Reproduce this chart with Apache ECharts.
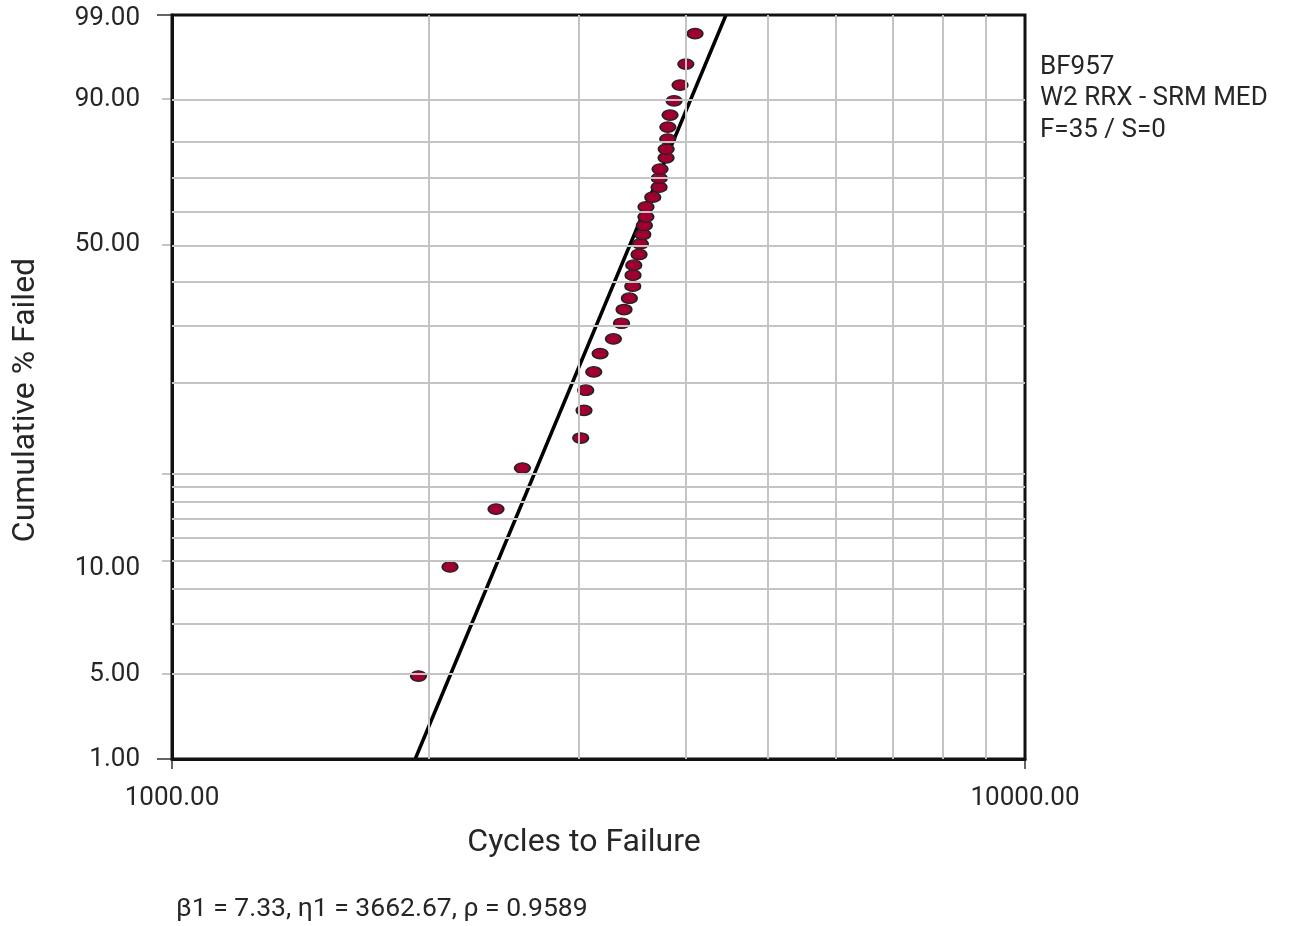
<!DOCTYPE html>
<html>
<head>
<meta charset="utf-8">
<script src="https://cdn.jsdelivr.net/npm/echarts@6/dist/echarts.min.js"></script>
<style>html,body{margin:0;padding:0;background:#fff}#c{width:1290px;height:926px}</style>
</head>
<body>
<div id="c"></div>
<script>
// ---- data ----
const cycles = [1945, 2118, 2398, 2575, 3014, 3041, 3055, 3122, 3176, 3292, 3365, 3388, 3437, 3469, 3471, 3478, 3528, 3541, 3564, 3579, 3594, 3595, 3661, 3724, 3726, 3734, 3795, 3796, 3812, 3813, 3836, 3878, 3941, 4003, 4104];
const pctFailed = [1.97, 4.77, 7.57, 10.45, 13.18, 16.27, 18.90, 21.61, 24.68, 27.35, 30.49, 33.45, 36.04, 38.95, 41.74, 44.38, 47.31, 50.30, 53.02, 55.68, 58.25, 61.27, 64.21, 67.23, 69.93, 72.59, 75.84, 78.26, 80.93, 83.95, 86.73, 89.69, 92.47, 95.38, 98.08];
const fitCycles = [1928, 4461];
const fitPct = [1, 99];
const xGridValues = [2000, 3000, 4000, 5000, 6000, 7000, 8000, 9000];
const yGridPct = [2, 3, 4, 5, 6, 7, 8, 9, 10, 20, 30, 40, 50, 60, 70, 80, 90];
const yTickPct = [2, 5, 10, 50, 90];
const yFrameTickPct = [1, 99];
const yLabelPct = [1, 2, 4.7, 50, 90, 98.88];
const yLabelText = ['1.00', '5.00', '10.00', '50.00', '90.00', '99.00'];
const infoLines = ['BF957', 'W2 RRX - SRM MED', 'F=35 / S=0'];
const statsText = 'β1 = 7.33, η1 = 3662.67, ρ = 0.9589';
const xTitle = 'Cycles to Failure';
const yTitle = 'Cumulative % Failed';

// Weibull probability transform
const T = p => Math.log(-Math.log(1 - p / 100));
const yMin = T(1), yMax = T(99);
const FONT = 'Roboto';
const TXT = '#262626';

const chart = echarts.init(document.getElementById('c'), null, {renderer: 'canvas'});
const option = {
  animation: false,
  backgroundColor: '#fff',
  textStyle: {fontFamily: FONT},
  grid: {left: 172, right: 265, top: 15, bottom: 167, show: true, borderColor: '#111', borderWidth: 3, backgroundColor: 'transparent', z: 5},
  xAxis: {
    type: 'log', logBase: 10, min: 1000, max: 10000,
    axisLine: {show: true, onZero: false, lineStyle: {color: '#111', width: 3}},
    axisTick: {show: true, length: 10, lineStyle: {color: '#333', width: 1.5}},
    axisLabel: {show: true, margin: 26, fontSize: 26, color: TXT, fontFamily: FONT, formatter: v => Number(v).toFixed(2)},
    splitLine: {show: false}, minorTick: {show: false}
  },
  yAxis: [{
    type: 'value', min: yMin, max: yMax,
    axisLine: {show: true, onZero: false, lineStyle: {color: '#111', width: 3}},
    axisTick: {show: true, length: 10, customValues: yTickPct.map(T), lineStyle: {color: '#c4c4c4', width: 2}},
    axisLabel: {show: true, margin: 32, fontSize: 26, color: TXT, fontFamily: FONT,
      customValues: yLabelPct.map(T),
      formatter: v => { let best = 0; yLabelPct.forEach((p, i) => { if (Math.abs(T(p) - v) < Math.abs(T(yLabelPct[best]) - v)) best = i; }); return yLabelText[best]; }},
    splitLine: {show: false}
  }, {
    type: 'value', min: yMin, max: yMax, position: 'left',
    axisLine: {show: false, onZero: false},
    axisTick: {show: true, length: 15, customValues: yFrameTickPct.map(T), lineStyle: {color: '#333', width: 1.5}},
    axisLabel: {show: false}, splitLine: {show: false}
  }],
  series: [
    {
      type: 'scatter', data: [], silent: true, z: 1, xAxisIndex: 0, yAxisIndex: 0,
      markLine: {
        silent: true, symbol: ['none', 'none'], animation: false,
        label: {show: false},
        lineStyle: {color: '#c4c4c4', width: 2, type: 'solid'},
        data: xGridValues.map(v => ({xAxis: v})).concat(yGridPct.map(p => ({yAxis: T(p)})))
      }
    },
    {
      type: 'line', data: fitCycles.map((c, i) => [c, T(fitPct[i])]), symbol: 'none', z: 3,
      lineStyle: {color: '#000', width: 3.5}, silent: true
    },
    {
      type: 'scatter', data: cycles.map((c, i) => [c, T(pctFailed[i])]), z: 4,
      symbol: 'circle', symbolSize: [15.5, 10.5],
      itemStyle: {color: '#A00030', borderColor: '#222', borderWidth: 1.5, opacity: 1}
    }
  ],
  graphic: [
    {type: 'text', x: 26, y: 400, rotation: Math.PI / 2, style: {text: yTitle, font: `32px ${FONT}`, fill: TXT, align: 'center', verticalAlign: 'middle'}},
    {type: 'text', x: 584, y: 843, style: {text: xTitle, font: `32px ${FONT}`, fill: TXT, align: 'center', verticalAlign: 'middle'}},
    {type: 'text', x: 176, y: 909, style: {text: statsText, font: `26.5px ${FONT}`, fill: TXT, align: 'left', verticalAlign: 'middle'}}
  ].concat(infoLines.map((t, i) => ({type: 'text', x: 1040, y: 67 + i * 31.5, style: {text: t, font: `26px ${FONT}`, fill: TXT, align: 'left', verticalAlign: 'middle'}})))
};
chart.setOption(option);
</script>
</body>
</html>
